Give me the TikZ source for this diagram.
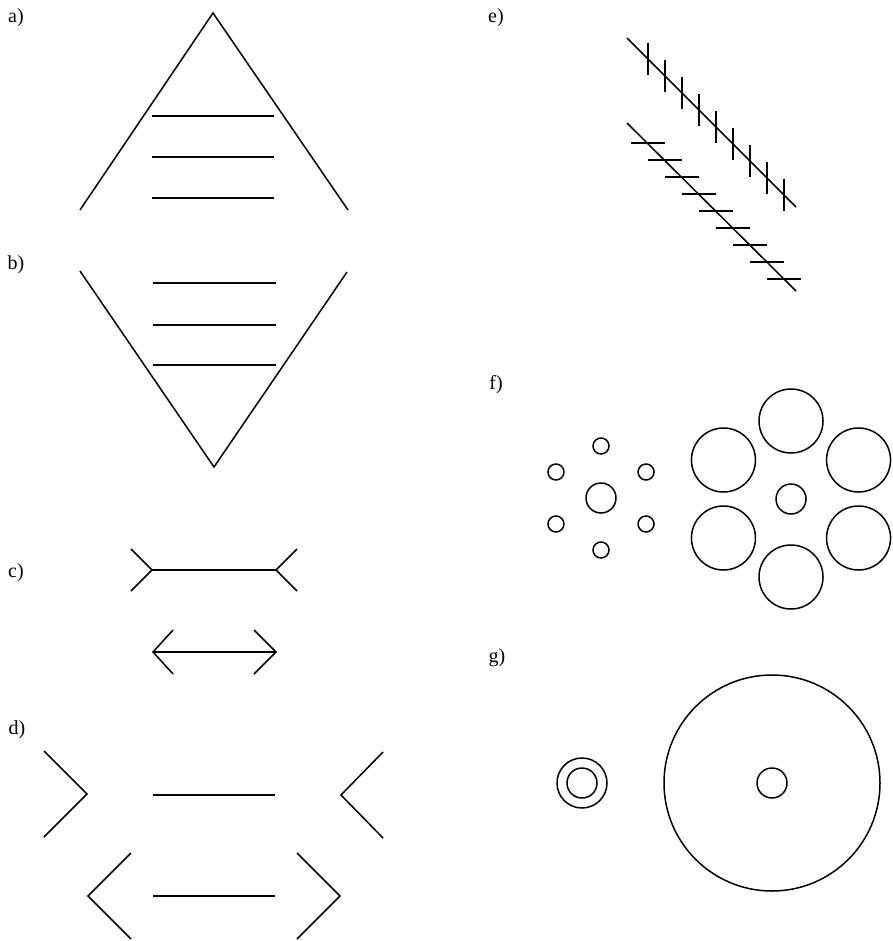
\documentclass[tikz,border=0pt]{standalone}
\usepackage{fontspec}
\setmainfont{Liberation Serif}
\usepackage{tikz}
\usetikzlibrary{positioning}

\begin{document}
\begin{tikzpicture}[x=1pt,y=-1pt,line width=1.5pt,
  lbl/.style={font=\fontsize{20}{24}\selectfont,inner sep=0pt}]
  \useasboundingbox (0,0) rectangle (892,941);
  \node[lbl] (la) at (16,18) {a)};
  \node[lbl] (lb) at (16,265) {b)};
  \node[lbl] (lc) at (16,573) {c)};
  \node[lbl] (ld) at (17,730) {d)};
  \node[lbl] (le) at (496,18) {e)};
  \node[lbl] (lf) at (496,385) {f)};
  \node[lbl] (lg) at (497,658) {g)};
  \draw (80,210) -- (213,13) -- (348,210);
  \draw (152,116) -- (274,116);
  \draw (152,157) -- (274,157);
  \draw (152,198) -- (274,198);
  \draw (80,271) -- (214,467) -- (347,272);
  \draw (153,283) -- (276,283);
  \draw (153,325) -- (276,325);
  \draw (153,365) -- (276,365);
  \draw (131,549) -- (152,570) -- (131,591);
  \draw (152,570) -- (276,570);
  \draw (297,549) -- (276,570) -- (297,591);
  \draw (173,630) -- (153,652) -- (173,674);
  \draw (153,652) -- (276,652);
  \draw (254,630) -- (276,652) -- (254,674);
  \draw (44,751) -- (87,794) -- (44,837);
  \draw (153,795) -- (275,795);
  \draw (383,752) -- (341,795) -- (383,838);
  \draw (131,853) -- (88,896) -- (131,939);
  \draw (153,896) -- (275,896);
  \draw (297,853) -- (340,896) -- (297,939);
  \draw (627,38) -- (796,207);
  \foreach \k in {0,...,8}
    \draw ({648+17*\k},{43+17*\k}) -- ++(0,32);
  \draw (627,123) -- (796,291);
  \foreach \k in {0,...,8}
    \draw ({631+17*\k},{143+17*\k}) -- ++(34,0);
  \draw (601,498) circle (15pt);
  \foreach \a in {30,90,...,330}
    \draw (601,498) ++(\a:52pt) circle (8pt);
  \draw (791,499) circle (15pt);
  \foreach \a in {30,90,...,330}
    \draw (791,499) ++(\a:78pt) circle (32pt);
  \draw (582,783) circle (25pt);
  \draw (582,783) circle (15pt);
  \draw (772,783) circle (108pt);
  \draw (772,783) circle (15pt);
\end{tikzpicture}
\end{document}
